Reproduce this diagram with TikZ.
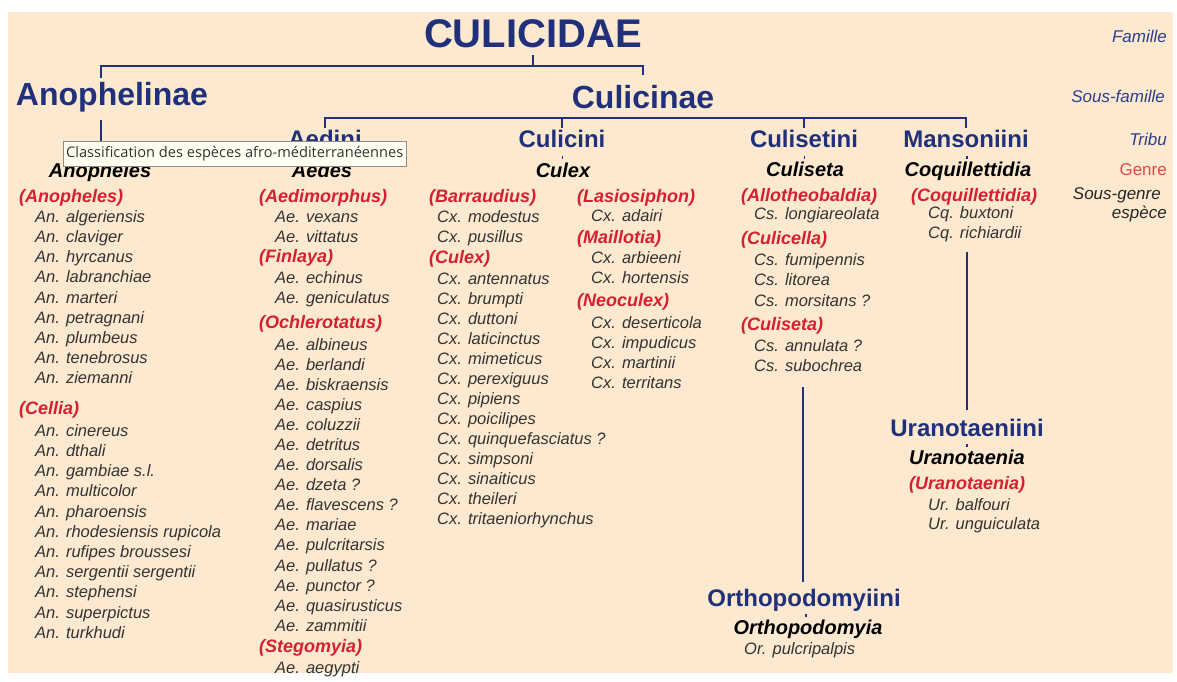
\documentclass[tikz,border=0pt]{standalone}
\usepackage{fontspec}
\setmainfont{Liberation Sans}
\newfontfamily\tipfont{Open Sans}
\usetikzlibrary{positioning, calc}
\definecolor{navy}{RGB}{33,48,122}
\definecolor{subred}{RGB}{214,32,48}
\definecolor{rankblue}{RGB}{45,62,140}
\definecolor{rankred}{RGB}{226,72,72}
\definecolor{beige}{RGB}{252,233,207}
\definecolor{tipfill}{RGB}{255,255,242}

\begin{document}
\begin{tikzpicture}[
		x=1pt, y=-1pt,
		every node/.style={inner sep=1pt},
		fam/.style={font=\bfseries\fontsize{40}{44}\selectfont, text=navy},
		subfam/.style={font=\bfseries\fontsize{32}{36}\selectfont, text=navy},
		tribe/.style={font=\bfseries\fontsize{24}{28}\selectfont, text=navy, text height=18pt, text depth=5pt},
		genus/.style={font=\bfseries\itshape\fontsize{20}{24}\selectfont, text height=15pt, text depth=4pt},
		subgen/.style={anchor=west, font=\bfseries\itshape\fontsize{18}{20}\selectfont, text=subred, text height=13pt, text depth=4pt},
		spec/.style={anchor=west, font=\itshape\fontsize{16.5}{18}\selectfont, text=black!80, text height=12pt, text depth=3.5pt},
		rank/.style={anchor=east, font=\itshape\fontsize{17}{20}\selectfont, text height=12.5pt, text depth=3.5pt},
		link/.style={draw=navy, line width=2.8pt},
		dotlink/.style={draw=navy, line width=1.2pt},
		tip/.style={draw=black!45, fill=tipfill, font=\tipfont\fontsize{14.6}{17}\selectfont, text=black!80, anchor=west, minimum height=25pt, inner xsep=3pt}
		]
		% page and panel
		\fill[white] (0,0) rectangle (1177,681);
		\fill[beige] (8,12) rectangle (1173,673);
		
		% family, subfamilies, tribes
		\node[fam] at (533,34) (culicidae) {CULICIDAE};
		\node[subfam] at (112,97) (anophelinae) {Anophelinae};
		\node[subfam] at (643,97) (culicinae) {Culicinae};
		\node[tribe] at (325,141) (aedini) {Aedini};
		\node[tribe] at (562,141) (culicini) {Culicini};
		\node[tribe] at (804,141) (culisetini) {Culisetini};
		\node[tribe] at (966,141) (mansoniini) {Mansoniini};
		\node[tribe] at (967,430) (uranotaeniini) {Uranotaeniini};
		\node[tribe] at (804,600) (orthopodomyiini) {Orthopodomyiini};
		
		% genera
		\node[genus] at (100,172) (anopheles) {Anopheles};
		\node[genus] at (322,172) (aedes) {Aedes};
		\node[genus] at (563,172) (culex) {Culex};
		\node[genus] at (805,171) (culiseta) {Culiseta};
		\node[genus] at (968,171) (coquil) {Coquillettidia};
		\node[genus] at (967,459) (uranotaenia) {Uranotaenia};
		\node[genus] at (808,629) (orthopodomyia) {Orthopodomyia};
		
		% ranks on the right
		\node[rank, text=rankblue] at (1168,38) (rFam) {Famille};
		\node[rank, text=rankblue] at (1166,98) (rSubfam) {Sous-famille};
		\node[rank, text=rankblue] at (1168,141) (rTribe) {Tribu};
		\node[rank, text=rankred, font=\fontsize{17}{20}\selectfont] at (1168,171) (rGenus) {Genre};
		\node[rank, text=black!85] at (1162,195) (rSubgen) {Sous-genre};
		\node[rank, text=black!85] at (1168,214) (rSpec) {espèce};
		
		% Anopheles
		\node[subgen] at (18,198) (sgAnoph) {(Anopheles)};
		\foreach \sp [count=\i from 0] in {algeriensis, claviger, hyrcanus, labranchiae, marteri, petragnani, plumbeus, tenebrosus, ziemanni}
		\node[spec] at (34,{218+20.2*\i}) (anA-\i) {An. \sp};
		\node[subgen] at (18,410) (sgCellia) {(Cellia)};
		\foreach \sp [count=\i from 0] in {cinereus, dthali, gambiae s.l., multicolor, pharoensis, rhodesiensis rupicola, rufipes broussesi, sergentii sergentii, stephensi, superpictus, turkhudi}
		\node[spec] at (34,{432+20.2*\i}) (anC-\i) {An. \sp};
		
		% Aedes
		\node[subgen] at (258,198) (sgAedim) {(Aedimorphus)};
		\foreach \sp [count=\i from 0] in {vexans, vittatus}
		\node[spec] at (274,{218+20.5*\i}) (aeA-\i) {Ae. \sp};
		\node[subgen] at (258,258) (sgFinlaya) {(Finlaya)};
		\foreach \sp [count=\i from 0] in {echinus, geniculatus}
		\node[spec] at (274,{279+20*\i}) (aeF-\i) {Ae. \sp};
		\node[subgen] at (258,324) (sgOchler) {(Ochlerotatus)};
		\foreach \sp [count=\i from 0] in {albineus, berlandi, biskraensis, caspius, coluzzii, detritus, dorsalis, dzeta ?, flavescens ?, mariae, pulcritarsis, pullatus ?, punctor ?, quasirusticus, zammitii}
		\node[spec] at (274,{346+20.07*\i}) (aeO-\i) {Ae. \sp};
		\node[subgen] at (258,648) (sgStego) {(Stegomyia)};
		\node[spec] at (274,669) (aeS-0) {Ae. aegypti};
		
		% Culex
		\node[subgen] at (428,198) (sgBarrau) {(Barraudius)};
		\foreach \sp [count=\i from 0] in {modestus, pusillus}
		\node[spec] at (436,{218+20*\i}) (cxB-\i) {Cx. \sp};
		\node[subgen] at (428,259) (sgCulex) {(Culex)};
		\foreach \sp [count=\i from 0] in {antennatus, brumpti, duttoni, laticinctus, mimeticus, perexiguus, pipiens, poicilipes, quinquefasciatus ?, simpsoni, sinaiticus, theileri, tritaeniorhynchus}
		\node[spec] at (436,{280+20*\i}) (cxC-\i) {Cx. \sp};
		\node[subgen] at (576,198) (sgLasio) {(Lasiosiphon)};
		\node[spec] at (590,217) (cxL-0) {Cx. adairi};
		\node[subgen] at (576,239) (sgMaillo) {(Maillotia)};
		\foreach \sp [count=\i from 0] in {arbieeni, hortensis}
		\node[spec] at (590,{259+20*\i}) (cxM-\i) {Cx. \sp};
		\node[subgen] at (576,302) (sgNeocu) {(Neoculex)};
		\foreach \sp [count=\i from 0] in {deserticola, impudicus, martinii, territans}
		\node[spec] at (590,{324+20*\i}) (cxN-\i) {Cx. \sp};
		
		% Culiseta
		\node[subgen] at (740,197) (sgAllot) {(Allotheobaldia)};
		\node[spec] at (753,215) (csA-0) {Cs. longiareolata};
		\node[subgen] at (740,240) (sgCulic) {(Culicella)};
		\foreach \sp [count=\i from 0] in {fumipennis, litorea, morsitans ?}
		\node[spec] at (753,{261+20.5*\i}) (csC-\i) {Cs. \sp};
		\node[subgen] at (740,326) (sgCulis) {(Culiseta)};
		\foreach \sp [count=\i from 0] in {annulata ?, subochrea}
		\node[spec] at (753,{347+20*\i}) (csS-\i) {Cs. \sp};
		
		% Coquillettidia, Uranotaenia, Orthopodomyia
		\node[subgen] at (910,197) (sgCoquil) {(Coquillettidia)};
		\foreach \sp [count=\i from 0] in {buxtoni, richiardii}
		\node[spec] at (927,{214+20*\i}) (cq-\i) {Cq. \sp};
		\node[subgen] at (908,485) (sgUrano) {(Uranotaenia)};
		\foreach \sp [count=\i from 0] in {balfouri, unguiculata}
		\node[spec] at (927,{506+19*\i}) (ur-\i) {Ur. \sp};
		\node[spec] at (743,650) (or-0) {Or. pulcripalpis};
		
		% brackets
		\coordinate (faRail) at (0,66);
		\coordinate (anX) at (101,78);
		\coordinate (cuFoot) at (0,75);
		\draw[link] (anX) -- (anX |- faRail) -- (culicinae |- faRail) -- (culicinae |- cuFoot);
		\draw[link] (culicidae |- 0,55) -- (culicidae |- faRail);
		\draw[link] (anX |- 0,120) -- (anX |- 0,150);
		\coordinate (trRail) at (0,118);
		\coordinate (trFoot) at (0,128);
		\draw[link] (aedini |- trFoot) -- (aedini |- trRail) -- (mansoniini |- trRail) -- (mansoniini |- trFoot);
		\foreach \t in {culicini, culisetini}
		\draw[link] (\t |- trRail) -- (\t |- trFoot);
		
		% long drops
		\coordinate (csDrop) at (803,387);
		\coordinate (cqDrop) at (967,252);
		\draw[link] (csDrop) -- (csDrop |- 0,582);
		\draw[link] (cqDrop) -- (cqDrop |- 0,410);
		
		% little marks between tribe and genus
		\foreach \t/\g in {culicini/culex, culisetini/culiseta, mansoniini/coquil, uranotaeniini/uranotaenia, orthopodomyiini/orthopodomyia}
		\draw[dotlink] ($(\t.south)!0.5!(\g.north)+(0,-1.5)$) -- ++(0,3);
		
		% tooltip
		\node[tip] at (63,154) (tooltip) {Classification des espèces afro-méditerranéennes};
		
	\end{tikzpicture}
\end{document}
